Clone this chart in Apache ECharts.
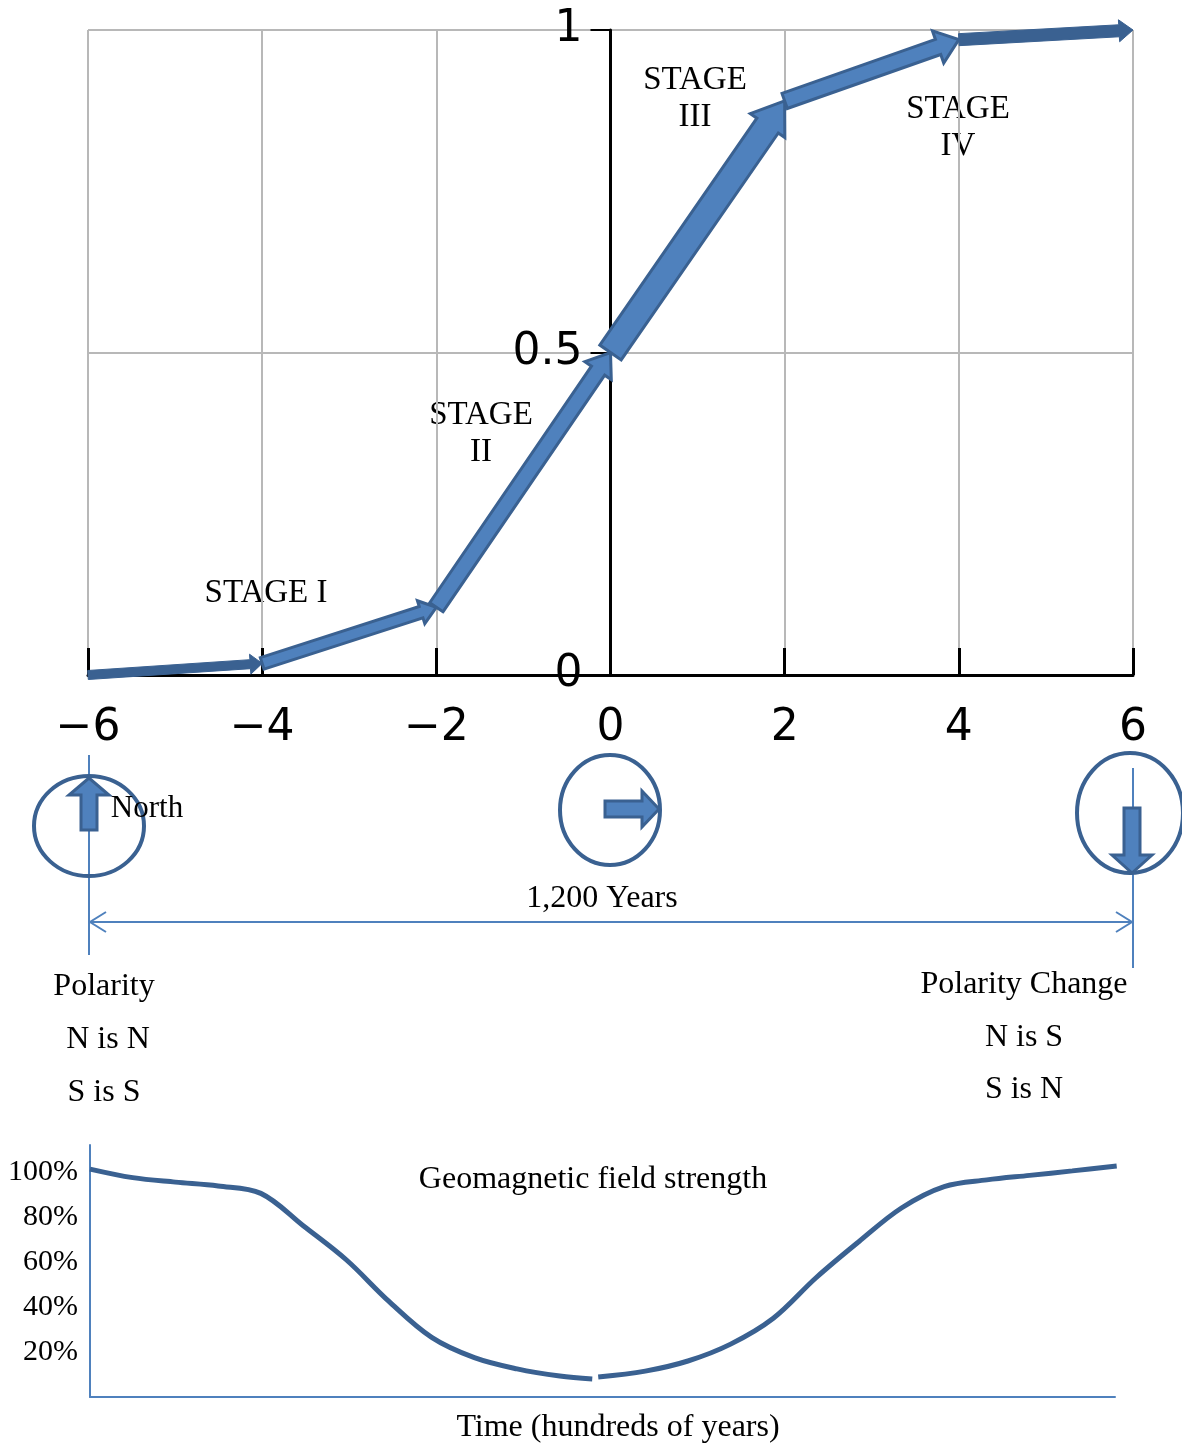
<!DOCTYPE html>
<html>
<head>
<meta charset="utf-8">
<title>Geomagnetic reversal stages</title>
<script src="https://cdn.jsdelivr.net/npm/echarts@6/dist/echarts.min.js"></script>
<style>
  html, body { margin: 0; padding: 0; background: #fff; }
  #chart { width: 1182px; height: 1445px; }
</style>
</head>
<body>
<div id="chart"></div>
<script>
// stage curve (top chart)
var timeX = [-6, -4, -2, 0, 2, 4, 6];
var stageY = [0, 0.018, 0.105, 0.5, 0.89, 0.985, 1];
var stageTicks = [0, 0.5, 1];

// geomagnetic field strength (bottom chart), % of normal
var fieldLeftX = [-6, -5.5, -5, -4.5, -4, -3.5, -3, -2.5, -2, -1.5, -1, -0.5, -0.12];
var fieldLeftY = [101.3, 97.5, 95.5, 93.8, 90.5, 76, 61, 42.5, 26.5, 17.5, 12.5, 9.3, 8.0];
var fieldRightX = [-0.05, 0.5, 1, 1.5, 2, 2.5, 3, 3.5, 4, 4.5, 5, 5.5, 6.02];
var fieldRightY = [8.9, 11.5, 16, 23.5, 35, 53, 69, 84, 93.5, 96.5, 98.5, 100.5, 102.7];
var pctTicks = [20, 40, 60, 80, 100];

var DARK = "#3a6191";
var FILL = "#4f81bd";
var LINE = "#4f81bd";
var SERIF = "'Liberation Serif', 'Times New Roman', serif";

// arrow look for each segment: shaft width, head width, head length
var segStyle = [
  { w: 9, h: 20, l: 12, fill: DARK, stroke: DARK, lw: 1 },
  { w: 12, h: 24, l: 16, fill: FILL, stroke: DARK, lw: 3 },
  { w: 16, h: 32, l: 22, fill: FILL, stroke: DARK, lw: 3 },
  { w: 26, h: 42, l: 30, fill: FILL, stroke: DARK, lw: 3 },
  { w: 16, h: 34, l: 22, fill: FILL, stroke: DARK, lw: 3 },
  { w: 12, h: 22, l: 14, fill: DARK, stroke: DARK, lw: 1 }
];

var segments = [];
for (var i = 0; i < timeX.length - 1; i++) {
  segments.push([timeX[i], stageY[i], timeX[i + 1], stageY[i + 1]]);
}

function zip(xs, ys) {
  return xs.map(function (x, k) { return [x, ys[k]]; });
}

function minus(v) {
  return String(v).replace("-", "\u2212");
}

var chart = echarts.init(document.getElementById("chart"));

function txt(text, x, y, size) {
  return {
    type: "text",
    style: {
      text: text, x: x, y: y,
      fontSize: size || 32, fontFamily: SERIF, fill: "#000",
      align: "center", verticalAlign: "middle", lineHeight: 37
    }
  };
}

var option = {
  animation: false,
  backgroundColor: "#fff",
  grid: [
    { left: 88, top: 30, width: 1045, height: 645, containLabel: false, outerBoundsMode: "none" },
    { left: 90, top: 1145, width: 1025, height: 252, containLabel: false, outerBoundsMode: "none" }
  ],
  xAxis: [
    {
      type: "value", gridIndex: 0, min: -6, max: 6, interval: 2,
      axisLine: { lineStyle: { color: "#000", width: 3 } },
      axisTick: { inside: true, length: 27, lineStyle: { color: "#000", width: 3 } },
      axisLabel: {
        margin: 32, fontSize: 44, fontFamily: "DejaVu Sans", color: "#000",
        formatter: minus
      },
      splitLine: { lineStyle: { color: "#b8b8b8", width: 2 } }
    },
    {
      type: "value", gridIndex: 1, min: -6, max: 6,
      axisLine: { lineStyle: { color: LINE, width: 2 } },
      axisTick: { show: false }, axisLabel: { show: false }, splitLine: { show: false }
    }
  ],
  yAxis: [
    {
      // sits on x = 0: half the grid width in from the left edge
      type: "value", gridIndex: 0, min: 0, max: 1, interval: 0.5, offset: -522.5,
      axisLine: { onZero: false, lineStyle: { color: "#000", width: 3 } },
      axisTick: { length: 20, lineStyle: { color: "#000", width: 2 } },
      axisLabel: {
        margin: 28, fontSize: 44, fontFamily: "DejaVu Sans", color: "#000",
        formatter: function (v) { return stageTicks.indexOf(v) >= 0 ? String(v) : ""; }
      },
      splitLine: { lineStyle: { color: "#b8b8b8", width: 2 } }
    },
    {
      type: "value", gridIndex: 1, min: 0, max: 112, interval: 20,
      axisLine: { show: true, onZero: false, lineStyle: { color: LINE, width: 2 } },
      axisTick: { show: false },
      axisLabel: {
        margin: 12, fontSize: 30, fontFamily: SERIF, color: "#000",
        formatter: function (v) { return pctTicks.indexOf(v) >= 0 ? v + "%" : ""; }
      },
      splitLine: { show: false }
    }
  ],
  series: [
    {
      type: "custom", xAxisIndex: 0, yAxisIndex: 0, clip: false,
      encode: { x: [0, 2], y: [1, 3] },
      data: segments,
      renderItem: function (params, api) {
        var a = api.coord([api.value(0), api.value(1)]);
        var b = api.coord([api.value(2), api.value(3)]);
        var st = segStyle[params.dataIndex];
        var dx = b[0] - a[0], dy = b[1] - a[1];
        var len = Math.sqrt(dx * dx + dy * dy);
        var ux = dx / len, uy = dy / len, nx = -uy, ny = ux;
        var bx = b[0] - ux * st.l, by = b[1] - uy * st.l;
        var w = st.w / 2, h = st.h / 2;
        return {
          type: "polygon",
          shape: {
            points: [
              [a[0] + nx * w, a[1] + ny * w],
              [bx + nx * w, by + ny * w],
              [bx + nx * h, by + ny * h],
              [b[0], b[1]],
              [bx - nx * h, by - ny * h],
              [bx - nx * w, by - ny * w],
              [a[0] - nx * w, a[1] - ny * w]
            ]
          },
          style: { fill: st.fill, stroke: st.stroke, lineWidth: st.lw, lineJoin: "miter" }
        };
      }
    },
    {
      type: "line", xAxisIndex: 1, yAxisIndex: 1, smooth: 0.35, showSymbol: false,
      lineStyle: { color: DARK, width: 5 },
      data: zip(fieldLeftX, fieldLeftY)
    },
    {
      type: "line", xAxisIndex: 1, yAxisIndex: 1, smooth: 0.35, showSymbol: false,
      lineStyle: { color: DARK, width: 5 },
      data: zip(fieldRightX, fieldRightY)
    }
  ],
  graphic: [
    // stage labels
    txt("STAGE I", 266, 593, 33),
    txt("STAGE\nII", 481, 434, 33),
    txt("STAGE\nIII", 695, 99, 33),
    txt("STAGE\nIV", 958, 128, 33),
    // vertical markers and 1,200 years span
    { type: "line", shape: { x1: 89, y1: 755, x2: 89, y2: 955 }, style: { stroke: LINE, lineWidth: 2 } },
    { type: "line", shape: { x1: 1133, y1: 768, x2: 1133, y2: 968 }, style: { stroke: LINE, lineWidth: 2 } },
    { type: "line", shape: { x1: 89, y1: 922, x2: 1133, y2: 922 }, style: { stroke: LINE, lineWidth: 2 } },
    { type: "polyline", shape: { points: [[106, 912], [90, 922], [106, 932]] }, style: { stroke: LINE, lineWidth: 2, fill: null } },
    { type: "polyline", shape: { points: [[1116, 912], [1132, 922], [1116, 932]] }, style: { stroke: LINE, lineWidth: 2, fill: null } },
    // compass circles
    { type: "ellipse", shape: { cx: 89, cy: 826, rx: 55, ry: 50 }, style: { fill: null, stroke: DARK, lineWidth: 4 } },
    { type: "ellipse", shape: { cx: 610, cy: 810, rx: 50, ry: 55 }, style: { fill: null, stroke: DARK, lineWidth: 4 } },
    { type: "ellipse", shape: { cx: 1130, cy: 813, rx: 53, ry: 60 }, style: { fill: null, stroke: DARK, lineWidth: 4 } },
    {
      type: "polygon",
      shape: { points: [[81, 830], [97, 830], [97, 795], [109, 795], [89, 778], [69, 795], [81, 795]] },
      style: { fill: FILL, stroke: DARK, lineWidth: 3 }
    },
    {
      type: "polygon",
      shape: { points: [[605, 801], [642, 801], [642, 791], [659, 809], [642, 827], [642, 817], [605, 817]] },
      style: { fill: FILL, stroke: DARK, lineWidth: 3 }
    },
    {
      type: "polygon",
      shape: { points: [[1124, 808], [1140, 808], [1140, 855], [1152, 855], [1132, 873], [1112, 855], [1124, 855]] },
      style: { fill: FILL, stroke: DARK, lineWidth: 3 }
    },
    // texts
    txt("North", 147, 809, 31),
    txt("1,200 Years", 602, 899),
    txt("Polarity", 104, 987),
    txt("N is N", 108, 1040),
    txt("S is S", 104, 1093),
    txt("Polarity Change", 1024, 985),
    txt("N is S", 1024, 1038),
    txt("S is N", 1024, 1090),
    txt("Geomagnetic field strength", 593, 1180),
    txt("Time (hundreds of years)", 618, 1428)
  ]
};

chart.setOption(option);
window.addEventListener("resize", chart.resize);
</script>
</body>
</html>
